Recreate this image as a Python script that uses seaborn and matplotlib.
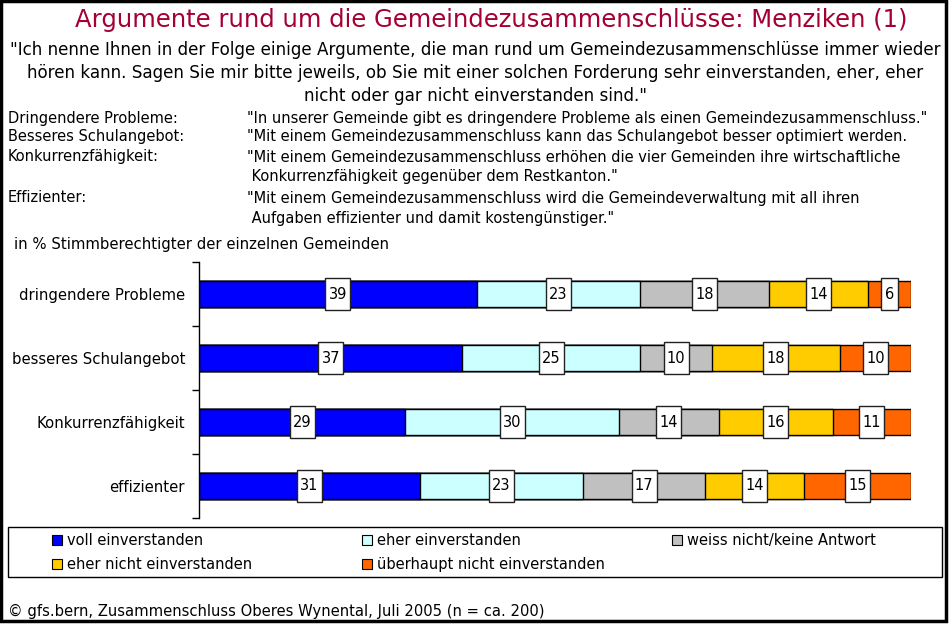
import matplotlib
matplotlib.use("Agg")
import matplotlib.pyplot as plt
from matplotlib.patches import Rectangle, Patch
import seaborn as sns
import pandas as pd
import numpy as np

# ---- data ----
categories = ["dringendere Probleme", "besseres Schulangebot", "Konkurrenzfähigkeit", "effizienter"]
series_names = ["voll einverstanden", "eher einverstanden", "weiss nicht/keine Antwort",
                "eher nicht einverstanden", "überhaupt nicht einverstanden"]
voll = [39, 37, 29, 31]
eher = [23, 25, 30, 23]
weiss = [18, 10, 14, 17]
eher_nicht = [14, 18, 16, 14]
ueberhaupt = [6, 10, 11, 15]
colors = ["#0000FF", "#CCFFFF", "#C0C0C0", "#FFCC00", "#FF6600"]

title = "Argumente rund um die Gemeindezusammenschlüsse: Menziken (1)"
question = ["\"Ich nenne Ihnen in der Folge einige Argumente, die man rund um Gemeindezusammenschlüsse immer wieder",
            "hören kann. Sagen Sie mir bitte jeweils, ob Sie mit einer solchen Forderung sehr einverstanden, eher, eher",
            "nicht oder gar nicht einverstanden sind.\""]
def_labels = ["Dringendere Probleme:", "Besseres Schulangebot:", "Konkurrenzfähigkeit:", "", "Effizienter:", ""]
def_texts = ["\"In unserer Gemeinde gibt es dringendere Probleme als einen Gemeindezusammenschluss.\"",
             "\"Mit einem Gemeindezusammenschluss kann das Schulangebot besser optimiert werden.",
             "\"Mit einem Gemeindezusammenschluss erhöhen die vier Gemeinden ihre wirtschaftliche",
             " Konkurrenzfähigkeit gegenüber dem Restkanton.\"",
             "\"Mit einem Gemeindezusammenschluss wird die Gemeindeverwaltung mit all ihren",
             " Aufgaben effizienter und damit kostengünstiger.\""]
unit_note = "in % Stimmberechtigter der einzelnen Gemeinden"
footer = "© gfs.bern, Zusammenschluss Oberes Wynental, Juli 2005 (n = ca. 200)"

values = np.array([voll, eher, weiss, eher_nicht, ueberhaupt], dtype=float)
cum = np.cumsum(values, axis=0)

sns.set_theme(style="white")
plt.rcParams["font.family"] = ["DejaVu Sans"]
plt.rcParams["text.color"] = "black"

W, H = 949, 624
fig = plt.figure(figsize=(W / 100, H / 100), dpi=100)

def fx(x):
    return x / W

def fy(y):
    return 1 - y / H

ax = fig.add_axes([fx(199), fy(518), fx(911) - fx(199), fy(262) - fy(518)])

# stacked bars: draw cumulative totals from longest to shortest
for i in range(len(series_names) - 1, -1, -1):
    df = pd.DataFrame({"cat": categories, "val": cum[i]})
    sns.barplot(data=df, x="val", y="cat", orient="h", color=colors[i], saturation=1,
                width=0.41, edgecolor="black", linewidth=1.0, ax=ax, zorder=2)

# value labels in white boxes
px_per_unit = (911 - 199) / 100.0
for i in range(len(series_names)):
    for j in range(len(categories)):
        v = values[i, j]
        center = cum[i, j] - v / 2
        s = f"{int(v)}"
        wpx = 9 + 8 * len(s)
        w = wpx / px_per_unit
        ax.add_patch(Rectangle((center - w / 2, j - 0.25), w, 0.5, facecolor="white",
                               edgecolor="#222222", linewidth=1.0, zorder=4))
        ax.text(center, j, s, ha="center", va="center", fontsize=10.5, color="black", zorder=5)

ax.set_xlim(0, 100)
ax.set_ylim(3.5, -0.5)
ax.set_xlabel("")
ax.set_ylabel("")
ax.set_xticks([])
for sp in ["top", "right", "bottom"]:
    ax.spines[sp].set_visible(False)
ax.spines["left"].set_color("black")
ax.spines["left"].set_linewidth(1.0)
ax.set_yticks(range(len(categories)))
ax.set_yticklabels(categories, fontsize=10.7, color="black")
ax.set_yticks([-0.5, 0.5, 1.5, 2.5, 3.5], minor=True)
ax.tick_params(axis="y", which="major", length=0, pad=10)
ax.tick_params(axis="y", which="minor", length=5, width=1, color="black", left=True)
ax.set_facecolor("none")

# texts
fig.text(fx(491), fy(20), title, ha="center", va="center", fontsize=17.5, color="#A50034")
for line, y in zip(question, [50, 73, 96]):
    fig.text(fx(475), fy(y), line, ha="center", va="center", fontsize=12.1, color="black")
for lab, txt, y in zip(def_labels, def_texts, [118, 137, 157, 176, 198, 218]):
    if lab:
        fig.text(fx(8), fy(y), lab, ha="left", va="center", fontsize=10.5, color="black")
    fig.text(fx(247), fy(y), txt, ha="left", va="center", fontsize=10.5, color="black")
fig.text(fx(14), fy(245), unit_note, ha="left", va="center", fontsize=10.7, color="black")
fig.text(fx(8), fy(611), footer, ha="left", va="center", fontsize=10.6, color="black")

# legend: frame + three columns
fig.add_artist(Rectangle((fx(8), fy(577)), fx(942) - fx(8), fy(527) - fy(577), transform=fig.transFigure,
                         fill=False, edgecolor="black", linewidth=1.0))
handles = [Patch(facecolor=c, edgecolor="black", linewidth=0.8) for c in colors]
columns = [([0, 3], 52), ([1, 4], 362), ([2], 672)]
for idx, xpos in columns:
    fig.legend([handles[k] for k in idx], [series_names[k] for k in idx],
               loc="upper left", bbox_to_anchor=(fx(xpos), fy(533)),
               fontsize=10.5, frameon=False, borderaxespad=0, borderpad=0, labelcolor="black",
               handlelength=0.7, handleheight=0.7, handletextpad=0.3, labelspacing=0.6)

# outer frame
fig.add_artist(Rectangle((fx(1), fy(621)), fx(946) - fx(1), fy(1) - fy(621), transform=fig.transFigure,
                         fill=False, edgecolor="black", linewidth=2.5))

fig.savefig("out.png", dpi=100)
